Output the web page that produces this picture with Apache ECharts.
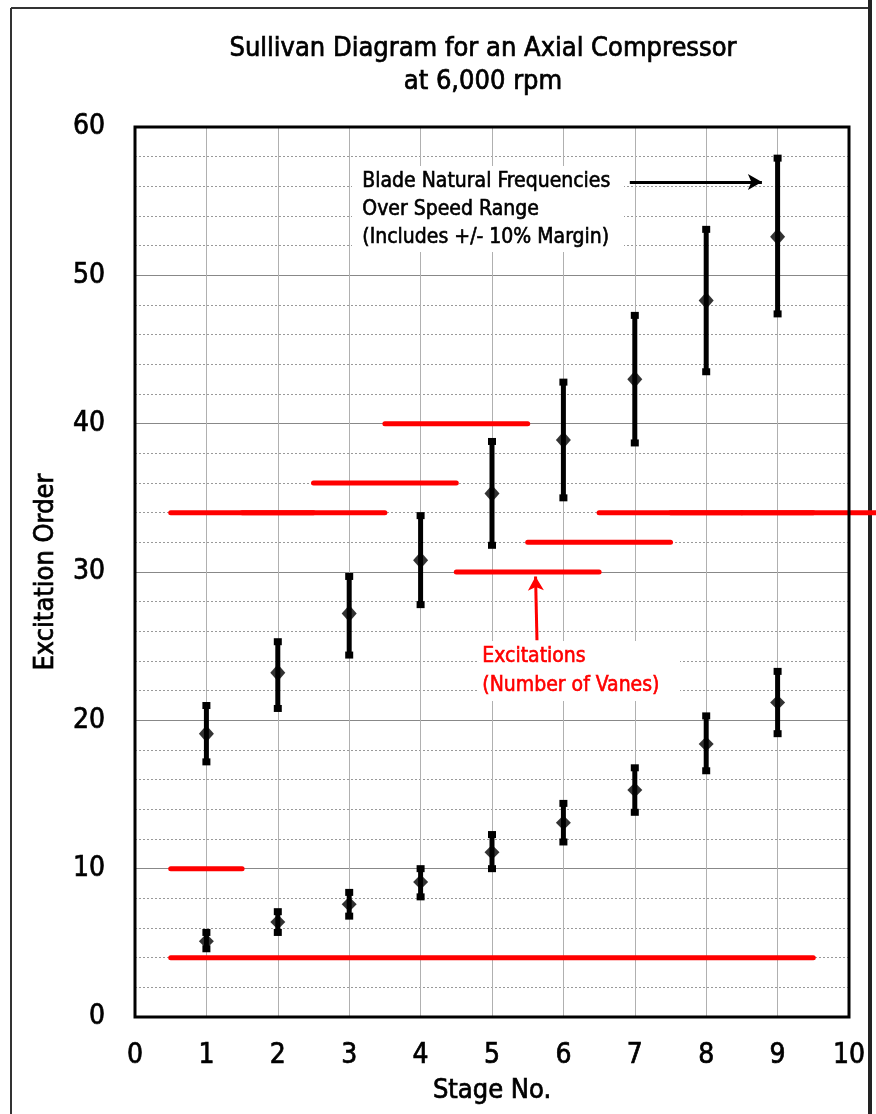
<!DOCTYPE html>
<html>
<head>
<meta charset="utf-8">
<script src="https://cdn.jsdelivr.net/npm/echarts@6/dist/echarts.min.js"></script>
<style>
html,body{margin:0;padding:0;background:#fff;}
#chart{width:876px;height:1114px;}
</style>
</head>
<body>
<div id="chart"></div>
<script>
// ---- data ----
var stages = [1, 2, 3, 4, 5, 6, 7, 8, 9];
var upperMid  = [19.1, 23.2, 27.2, 30.8, 35.3, 38.9, 43.0, 48.3, 52.6];
var upperLow  = [17.2, 20.8, 24.4, 27.8, 31.8, 35.0, 38.7, 43.5, 47.4];
var upperHigh = [21.0, 25.3, 29.7, 33.8, 38.8, 42.8, 47.3, 53.1, 57.9];
var lowerMid  = [5.1, 6.4, 7.6, 9.1, 11.1, 13.1, 15.3, 18.4, 21.2];
var lowerLow  = [4.6, 5.7, 6.8, 8.1, 10.0, 11.8, 13.8, 16.6, 19.1];
var lowerHigh = [5.7, 7.1, 8.4, 10.0, 12.3, 14.4, 16.8, 20.3, 23.3];
// excitation segments: [from stage, to stage, order]
var excStart = [0.5, 0.5, 0.5, 1.5, 2.5, 3.5, 4.5, 5.5, 6.5, 7.5, 8.5];
var excEnd   = [9.5, 1.5, 2.5, 3.5, 4.5, 5.5, 6.5, 7.5, 8.5, 9.5, 10.5];
var excOrder = [4, 10, 34, 34, 36, 40, 30, 32, 34, 34, 34];
var xTicks = [0, 1, 2, 3, 4, 5, 6, 7, 8, 9, 10];
var yTicks = [0, 10, 20, 30, 40, 50, 60];

var FONT = '"Liberation Sans Narrow", "DejaVu Sans Condensed", "Liberation Sans", sans-serif';

function zip3(a, b, c) { return a.map(function (v, i) { return [v, b[i], c[i]]; }); }
function zip2(a, b) { return a.map(function (v, i) { return [v, b[i]]; }); }

var errRender = function (params, api) {
  var x = api.value(0);
  var lo = api.coord([x, api.value(1)]);
  var hi = api.coord([x, api.value(2)]);
  var cw = 8, ch = 7;
  return {
    type: 'group',
    children: [
      { type: 'line', shape: { x1: lo[0], y1: lo[1], x2: hi[0], y2: hi[1] }, style: { stroke: '#000', lineWidth: 5 } },
      { type: 'rect', shape: { x: hi[0] - cw / 2, y: hi[1] - ch / 2, width: cw, height: ch }, style: { fill: '#000' } },
      { type: 'rect', shape: { x: lo[0] - cw / 2, y: lo[1] - ch / 2, width: cw, height: ch }, style: { fill: '#000' } }
    ]
  };
};

var segRender = function (params, api) {
  var a = api.coord([api.value(0), api.value(2)]);
  var b = api.coord([api.value(1), api.value(2)]);
  return {
    type: 'line',
    shape: { x1: a[0], y1: a[1], x2: b[0], y2: b[1] },
    style: { stroke: '#ff0000', lineWidth: 5, lineCap: 'round' }
  };
};

var heavy = { textBorderColor: '#000', textBorderWidth: 0.7 };

var chart = echarts.init(document.getElementById('chart'), null, { renderer: 'canvas' });
var option = {
  backgroundColor: '#fff',
  animation: false,
  title: {
    text: 'Sullivan Diagram for an Axial Compressor\nat 6,000 rpm',
    left: 478, top: 27, textAlign: 'center',
    textStyle: { fontFamily: FONT, fontSize: 27, fontWeight: 'normal', color: '#000', lineHeight: 33, textBorderColor: '#000', textBorderWidth: 0.7 }
  },
  grid: { left: 135, right: 27, top: 127, bottom: 97, show: false },
  xAxis: {
    type: 'value', min: 0, max: 10, interval: 1,
    name: 'Stage No.', nameLocation: 'middle', nameGap: 60,
    nameTextStyle: { fontFamily: FONT, fontSize: 27, color: '#000', textBorderColor: '#000', textBorderWidth: 0.7 },
    axisLine: { show: false },
    axisTick: { show: false },
    axisLabel: { margin: 25, fontFamily: FONT, fontSize: 28, color: '#000', customValues: xTicks, textBorderColor: '#000', textBorderWidth: 0.7 },
    splitLine: { show: true, lineStyle: { color: '#b0b0b0', width: 1 } }
  },
  yAxis: {
    type: 'value', min: 0, max: 60, interval: 10,
    name: 'Excitation Order', nameLocation: 'middle', nameGap: 76,
    nameTextStyle: { fontFamily: FONT, fontSize: 27, color: '#000', textBorderColor: '#000', textBorderWidth: 0.7 },
    axisLine: { show: false },
    axisTick: { show: false },
    axisLabel: { margin: 30, fontFamily: FONT, fontSize: 28, color: '#000', customValues: yTicks, textBorderColor: '#000', textBorderWidth: 0.7 },
    splitLine: { show: true, lineStyle: { color: '#888', width: 1 } },
    minorTick: { show: false, splitNumber: 5 },
    minorSplitLine: { show: true, lineStyle: { color: '#999', width: 1, type: [2, 2] } }
  },
  graphic: [
    // page frame
    { type: 'line', shape: { x1: 11, y1: 8, x2: 870, y2: 8 }, style: { stroke: '#333', lineWidth: 2 } },
    { type: 'line', shape: { x1: 11, y1: 8, x2: 11, y2: 1114 }, style: { stroke: '#333', lineWidth: 2 } },
    { type: 'line', shape: { x1: 870, y1: 0, x2: 870, y2: 1114 }, style: { stroke: '#222', lineWidth: 4 } },
    // plot border
    { type: 'rect', z: 50, shape: { x: 135, y: 127, width: 714, height: 890 }, style: { fill: 'none', stroke: '#000', lineWidth: 3 } },
    // annotation boxes
    { type: 'rect', z: 20, shape: { x: 352, y: 166, width: 272, height: 86 }, style: { fill: '#fff' } },
    { type: 'text', z: 21, left: 362, top: 168, style: { text: 'Blade Natural Frequencies\nOver Speed Range\n(Includes +/- 10% Margin)', fill: '#000', font: '21px ' + FONT, lineHeight: 28, stroke: '#000', lineWidth: 0.6 } },
    { type: 'rect', z: 20, shape: { x: 477, y: 641, width: 203, height: 60 }, style: { fill: '#fff' } },
    { type: 'text', z: 21, left: 482, top: 642, style: { text: 'Excitations\n(Number of Vanes)', fill: '#ff0000', font: '21px ' + FONT, lineHeight: 29, stroke: '#ff0000', lineWidth: 0.6 } }
  ],
  series: [
    {
      type: 'custom', name: 'exc', renderItem: segRender, clip: false, z: 3,
      data: zip3(excStart, excEnd, excOrder),
      markLine: {
        silent: true, symbol: ['none', 'arrow'], symbolSize: [12, 14], animation: false,
        label: { show: false },
        lineStyle: { color: '#ff0000', width: 3, type: 'solid' },
        data: [[{ coord: [5.63, 25.4] }, { coord: [5.61, 29.7] }]]
      }
    },
    {
      type: 'custom', name: 'upperErr', renderItem: errRender, z: 4,
      data: zip3(stages, upperLow, upperHigh),
      markLine: {
        silent: true, symbol: ['none', 'arrow'], symbolSize: [12, 14], animation: false,
        label: { show: false },
        lineStyle: { color: '#000', width: 3, type: 'solid' },
        data: [[{ coord: [6.93, 56.3] }, { coord: [8.78, 56.3] }]]
      }
    },
    {
      type: 'custom', name: 'lowerErr', renderItem: errRender, z: 4,
      data: zip3(stages, lowerLow, lowerHigh)
    },
    {
      type: 'scatter', name: 'upper', symbol: 'diamond', symbolSize: [15, 17], z: 5,
      itemStyle: { color: '#000' }, data: zip2(stages, upperMid)
    },
    {
      type: 'scatter', name: 'lower', symbol: 'diamond', symbolSize: [15, 15], z: 5,
      itemStyle: { color: '#000' }, data: zip2(stages, lowerMid)
    }
  ]
};
chart.setOption(option);
</script>
</body>
</html>
